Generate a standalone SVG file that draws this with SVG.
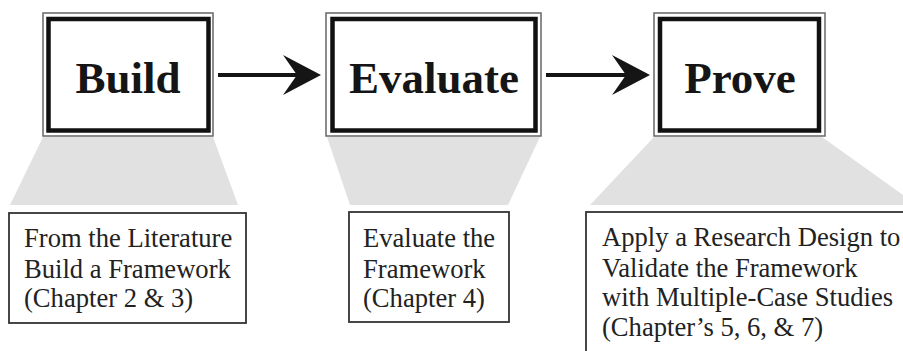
<svg xmlns="http://www.w3.org/2000/svg" width="903" height="351" viewBox="0 0 903 351">
<style>
.outer{fill:#fff;stroke:#666;stroke-width:1.5}
.inner{fill:none;stroke:#111;stroke-width:4.5}
.title{font-family:"Liberation Serif","Times New Roman",serif;font-weight:bold;font-size:45px;fill:#151515;text-anchor:middle}
.lbl{fill:#fff;stroke:#333;stroke-width:1.8}
.txt{font-family:"Liberation Serif","Times New Roman",serif;font-size:26.6px;fill:#222}
.shade{fill:#e1e1e1}
.line{stroke:#151515;stroke-width:4;fill:none}
.head{fill:#151515}
</style>
<rect width="903" height="351" fill="#fff"/>
<g id="shades">
<polygon class="shade" points="43,137 213,137 238,205 10,205"/>
<polygon class="shade" points="327,137 540,137 508,205 350,205"/>
<polygon class="shade" points="654,137 822,137 903,195 903,205 590,205"/>
</g>
<g id="build">
<rect class="outer" x="43" y="13" width="170" height="123"/>
<rect class="inner" x="48.5" y="19" width="160" height="111.5"/>
<text class="title" x="128" y="93">Build</text>
</g>
<g id="evaluate">
<rect class="outer" x="326" y="13" width="215" height="123"/>
<rect class="inner" x="332.5" y="19" width="203" height="111.5"/>
<text class="title" x="434" y="93">Evaluate</text>
</g>
<g id="prove">
<rect class="outer" x="654" y="13" width="171" height="123"/>
<rect class="inner" x="660" y="19" width="159" height="111.5"/>
<text class="title" x="740" y="93">Prove</text>
</g>
<g id="connectors">
<line class="line" x1="218" y1="75" x2="300" y2="75"/>
<path class="head" d="M321,75 L283,55 L297,75 L283,95 Z"/>
<line class="line" x1="546" y1="75" x2="628" y2="75"/>
<path class="head" d="M650,75 L612,55 L626,75 L612,95 Z"/>
</g>
<g id="label-build">
<rect class="lbl" x="9" y="213" width="237" height="110"/>
<text class="txt" x="24" y="247">From the Literature</text>
<text class="txt" x="24" y="278">Build a Framework</text>
<text class="txt" x="24" y="307">(Chapter 2 &amp; 3)</text>
</g>
<g id="label-evaluate">
<rect class="lbl" x="349" y="212" width="160" height="110"/>
<text class="txt" x="363" y="247">Evaluate the</text>
<text class="txt" x="363" y="278">Framework</text>
<text class="txt" x="363" y="307">(Chapter 4)</text>
</g>
<g id="label-prove">
<rect class="lbl" x="586" y="212" width="330" height="150"/>
<text class="txt" x="602" y="246">Apply a Research Design to</text>
<text class="txt" x="602" y="277">Validate the Framework</text>
<text class="txt" x="602" y="306">with Multiple-Case Studies</text>
<text class="txt" x="602" y="336">(Chapter’s 5, 6, &amp; 7)</text>
</g>
</svg>
